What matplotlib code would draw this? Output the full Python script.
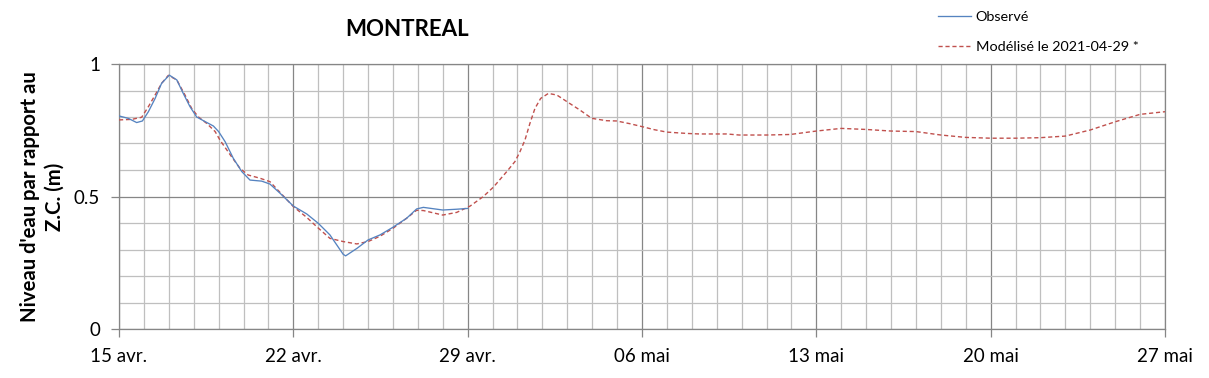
import matplotlib
matplotlib.use("Agg")
import matplotlib.pyplot as plt
import matplotlib.dates as mdates
import numpy as np
import pandas as pd

START = pd.Timestamp("2021-04-15")
END = pd.Timestamp("2021-05-27")

# jours depuis le 15 avr. / niveau (m)
obs_days = [0.0, 0.37, 0.71, 0.94, 1.18, 1.45, 1.71, 2.02, 2.32, 2.58, 2.85,
            3.12, 3.45, 3.79, 4.0, 4.26, 4.59, 4.93, 5.26, 5.73, 6.06, 6.47,
            7.0, 7.54, 8.0, 8.47, 9.0, 9.1, 9.55, 10.0, 10.48, 11.0, 11.55,
            11.95, 12.22, 13.0, 13.56, 14.0]
obs_vals = [0.804, 0.795, 0.779, 0.785, 0.820, 0.870, 0.927, 0.958, 0.940,
            0.889, 0.839, 0.800, 0.783, 0.766, 0.745, 0.707, 0.644, 0.594,
            0.562, 0.558, 0.547, 0.512, 0.464, 0.434, 0.399, 0.355, 0.282,
            0.276, 0.304, 0.336, 0.355, 0.384, 0.418, 0.453, 0.459, 0.449,
            0.452, 0.455]

mod_days = [0.0, 0.51, 0.91, 1.18, 1.45, 1.71, 1.98, 2.32, 2.65, 2.92, 3.19,
            3.52, 3.86, 4.06, 4.52, 4.86, 5.19, 5.66, 6.06, 6.47, 7.0, 7.54,
            7.94, 8.47, 9.0, 9.55, 10.0, 10.48, 11.0, 11.55, 11.95, 12.22,
            13.0, 13.56, 14.1, 14.63, 15.03, 15.57, 15.9, 16.1, 16.3, 16.5,
            16.7, 16.93, 17.24, 17.58, 18.05, 18.51, 18.98, 19.58, 19.98,
            20.5, 20.99, 21.5, 22.0, 22.8, 23.3, 24.4, 24.9, 26.0, 26.95,
            28.0, 29.0, 30.0, 31.0, 32.0, 33.0, 34.0, 35.0, 36.0, 37.0, 38.0,
            39.0, 40.0, 41.0, 42.0]
mod_vals = [0.789, 0.791, 0.799, 0.839, 0.883, 0.927, 0.957, 0.940, 0.883,
            0.832, 0.800, 0.776, 0.745, 0.712, 0.650, 0.606, 0.581, 0.569,
            0.556, 0.515, 0.462, 0.421, 0.386, 0.342, 0.330, 0.321, 0.330,
            0.350, 0.380, 0.418, 0.448, 0.447, 0.430, 0.440, 0.464, 0.500,
            0.535, 0.594, 0.632, 0.669, 0.713, 0.776, 0.832, 0.870, 0.889,
            0.883, 0.854, 0.826, 0.795, 0.786, 0.785, 0.775, 0.764, 0.752,
            0.743, 0.738, 0.736, 0.736, 0.732, 0.732, 0.734, 0.747, 0.757,
            0.753, 0.747, 0.745, 0.732, 0.723, 0.720, 0.720, 0.722, 0.728,
            0.751, 0.782, 0.810, 0.820]

tick_labels = ["15 avr.", "22 avr.", "29 avr.", "06 mai", "13 mai",
               "20 mai", "27 mai"]

plt.rcParams['font.family'] = ['Lato', 'DejaVu Sans']

MINOR = "#BFBFBF"
MAJOR = "#868686"

fig = plt.figure(figsize=(12.09, 3.78), dpi=100)
ax = fig.add_axes([119 / 1209, 1 - 329 / 378, (1165 - 119) / 1209, (329 - 64) / 378])

obs_t = START + pd.to_timedelta(obs_days, unit="D")
mod_t = START + pd.to_timedelta(mod_days, unit="D")

ax.plot(obs_t, obs_vals, color="#5583C0", lw=0.95, label="Observé", zorder=4)
ax.plot(mod_t, mod_vals, color="#C0504D", lw=1.0, dashes=(3, 2),
        label="Modélisé le 2021-04-29 *", zorder=3)

ax.set_xlim(START, END)
ax.set_ylim(0, 1)

major_dates = pd.date_range(START, END, freq="7D")
ax.set_xticks(major_dates)
ax.set_xticklabels(tick_labels)
ax.xaxis.set_minor_locator(mdates.DayLocator())
ax.set_yticks([0, 0.5, 1])
ax.set_yticklabels(["0", "0.5", "1"])
ax.set_yticks(np.arange(0, 1.01, 0.1), minor=True)

ax.grid(which="minor", color=MINOR, lw=0.9)
ax.grid(which="major", color=MAJOR, lw=0.9)
ax.set_axisbelow(True)

ax.tick_params(axis="both", which="major", labelsize=13.5, color=MAJOR,
               length=5.5, width=0.9)
ax.tick_params(axis="x", which="major", pad=8)
ax.tick_params(axis="y", which="major", pad=8)
ax.tick_params(which="minor", length=0)
for s in ax.spines.values():
    s.set_color(MAJOR)
    s.set_linewidth(0.9)

ax.set_ylabel("Niveau d'eau par rapport au\nZ.C. (m)", fontsize=14.6,
              fontweight="bold", linespacing=1.3)
ax.yaxis.set_label_coords(-0.0516, 0.5)

fig.text(407 / 1209, 1 - 29 / 378, "MONTREAL", fontsize=16, fontweight="bold",
         ha="center", va="center")

fig.legend(loc="upper left", bbox_to_anchor=(938 / 1209, 1 - 11 / 378),
           frameon=False, fontsize=10.4, borderpad=0, borderaxespad=0,
           handlelength=2.3, handletextpad=0.3, labelspacing=1.25)

fig.savefig("out.png", dpi=100)
